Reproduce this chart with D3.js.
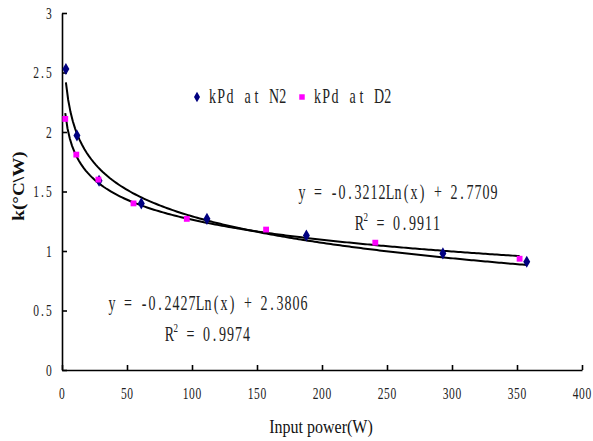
<!DOCTYPE html>
<html>
<head>
<meta charset="utf-8">
<script src="https://cdn.jsdelivr.net/npm/d3@7"></script>
<style>
  body { margin: 0; background: #fff; }
</style>
</head>
<body>
<script>
var n2Power = [3, 11.5, 28.5, 61, 111.5, 188, 293, 357.5];
var n2K = [2.53, 1.97, 1.59, 1.40, 1.27, 1.13, 0.98, 0.91];
var d2Power = [2.5, 11, 28, 55, 96, 157, 241, 352];
var d2K = [2.11, 1.81, 1.60, 1.40, 1.27, 1.18, 1.07, 0.935];

// log trendline coefficients printed on the chart: y = a*Ln(x) + b
var n2Fit = [-0.3212, 2.7709];
var d2Fit = [-0.2427, 2.3806];
var n2R2 = "0.9911";
var d2R2 = "0.9974";

var xTicks = [0, 50, 100, 150, 200, 250, 300, 350, 400];
var yTicks = [0, 0.5, 1, 1.5, 2, 2.5, 3];
var seriesNames = ["kPd at N2", "kPd at D2"];

var width = 593, height = 441;
var plotLeft = 62, plotRight = 582, plotTop = 13, plotBottom = 370;

var svg = d3.select("body").append("svg")
    .attr("width", width)
    .attr("height", height)
    .style("font-family", "'Liberation Serif', serif");

var x = d3.scaleLinear().domain([0, 400]).range([plotLeft, plotRight]);
var y = d3.scaleLinear().domain([0, 3]).range([plotBottom, plotTop]);

// draws text as fixed-width cells, stretched vertically like the source image
function monoText(parent, str, x0, yb, cell, size, sy) {
    var t = parent.append("text")
        .attr("transform", "translate(" + x0 + "," + yb + ") scale(1," + sy + ")")
        .style("font-size", size + "px")
        .attr("fill", "#222");
    str.split("").forEach(function(ch, i) {
        if (ch === " ") return;
        t.append("tspan")
            .attr("x", (i + 0.5) * cell)
            .attr("y", 0)
            .attr("text-anchor", "middle")
            .text(ch);
    });
    return t;
}

//axes
svg.append("g")
    .attr("transform", "translate(0," + plotBottom + ")")
    .call(d3.axisBottom(x).tickValues(xTicks).tickSize(-5).tickSizeOuter(0).tickFormat(""));
svg.append("g")
    .attr("transform", "translate(" + plotLeft + ",0)")
    .call(d3.axisLeft(y).tickValues(yTicks).tickSize(-5).tickSizeOuter(0).tickFormat(""));
svg.selectAll(".domain, .tick line").attr("stroke", "#000").attr("stroke-width", 1.6);

//tick labels
var tickCell = 6.3;
xTicks.forEach(function(v) {
    var s = String(v);
    monoText(svg, s, x(v) - s.length * tickCell / 2, 399, tickCell, 11.5, 1.4);
});
yTicks.forEach(function(v) {
    var s = String(v);
    monoText(svg, s, 52 - s.length * tickCell, y(v) + 5.5, tickCell, 11.5, 1.4);
});

//axis titles
svg.append("text")
    .attr("transform", "translate(321,433) scale(1,1.2)")
    .attr("text-anchor", "middle")
    .style("font-size", "16px")
    .attr("fill", "#111")
    .text("Input power(W)");
svg.append("text")
    .attr("transform", "translate(24,186) rotate(-90) scale(1.2,1)")
    .attr("text-anchor", "middle")
    .style("font-size", "16px")
    .style("font-weight", "bold")
    .attr("fill", "#111")
    .text("k(\u00B0C\\W)");

//trendlines
function fitCurve(fit, xs) {
    var lo = d3.min(xs), hi = d3.max(xs);
    var pts = d3.range(0, 201).map(function(i) {
        var xv = lo + (hi - lo) * i / 200;
        return [xv, fit[0] * Math.log(xv) + fit[1]];
    });
    return d3.line().x(function(d) { return x(d[0]); }).y(function(d) { return y(d[1]); })(pts);
}
svg.append("path").attr("d", fitCurve(n2Fit, n2Power))
    .attr("fill", "none").attr("stroke", "#000").attr("stroke-width", 2);
svg.append("path").attr("d", fitCurve(d2Fit, d2Power))
    .attr("fill", "none").attr("stroke", "#000").attr("stroke-width", 2);

//markers
var diamond = d3.symbol().type(d3.symbolDiamond).size(42);
var square = d3.symbol().type(d3.symbolSquare).size(34);
svg.selectAll(".n2").data(n2Power).enter().append("path")
    .attr("class", "n2")
    .attr("d", diamond)
    .attr("transform", function(d, i) { return "translate(" + x(d) + "," + y(n2K[i]) + ")"; })
    .attr("fill", "#000080");
svg.selectAll(".d2").data(d2Power).enter().append("path")
    .attr("class", "d2")
    .attr("d", square)
    .attr("transform", function(d, i) { return "translate(" + x(d) + "," + y(d2K[i]) + ")"; })
    .attr("fill", "#ff00ff");

//legend
svg.append("path").attr("d", d3.symbol().type(d3.symbolDiamond).size(32))
    .attr("transform", "translate(197,97)").attr("fill", "#000080");
monoText(svg, seriesNames[0], 208, 103, 8.8, 14, 1.45);
svg.append("path").attr("d", d3.symbol().type(d3.symbolSquare).size(30))
    .attr("transform", "translate(302,97)").attr("fill", "#ff00ff");
monoText(svg, seriesNames[1], 313, 103, 8.8, 14, 1.45);

//equation labels
function eqLabel(fit, r2, cx, yb) {
    var cell = 8;
    var eq = "y = " + fit[0].toFixed(4) + "Ln(x) + " + fit[1].toFixed(4);
    monoText(svg, eq, cx - eq.length * cell / 2, yb, cell, 14, 1.45);
    // R^2 line: R, small superscript 2, then the value
    var rest = " = " + r2;
    var total = cell + 5 + rest.length * cell;
    var x0 = cx - total / 2;
    monoText(svg, "R", x0, yb + 31, cell, 14, 1.45);
    monoText(svg, "2", x0 + cell - 0.5, yb + 22, 5.5, 9, 1.45);
    monoText(svg, rest, x0 + cell + 5, yb + 31, cell, 14, 1.45);
}
eqLabel(n2Fit, n2R2, 398, 199);
eqLabel(d2Fit, d2R2, 208, 310);
</script>
</body>
</html>
